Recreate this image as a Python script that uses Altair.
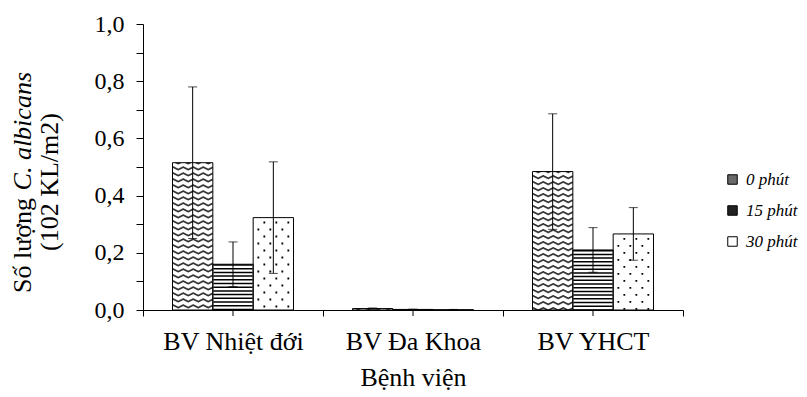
import altair as alt
import pandas as pd

# ---- data ----
categories = ["BV Nhiệt đới", "BV Đa Khoa", "BV YHCT"]
series = ["0 phút", "15 phút", "30 phút"]
mean_0 = [0.515, 0.005, 0.484]
sd_0 = [0.265, 0.002, 0.202]
mean_15 = [0.160, 0.002, 0.210]
sd_15 = [0.078, 0.001, 0.078]
mean_30 = [0.323, 0.001, 0.266]
sd_30 = [0.195, 0.001, 0.092]
y_tick_values = [0.0, 0.1, 0.2, 0.3, 0.4, 0.5, 0.6, 0.7, 0.8, 0.9, 1.0]
x_title = "Bệnh viện"
y_title_a = "Số lượng"
y_title_b = "C. albicans"
y_title_c = "(102 KL/m2)"

rows = []
for s, ms, sds in zip(series, [mean_0, mean_15, mean_30], [sd_0, sd_15, sd_30]):
    for c, m, sd in zip(categories, ms, sds):
        rows.append({"cat": c, "ser": s, "val": m, "lo": max(m - sd, 0), "hi": m + sd})
df = pd.DataFrame(rows)

# ---- layout / style ----
W, H = 540, 286
STEP = W / len(categories)
BW = 40.33
PAD_OUTER = (STEP / BW - len(series)) / 2
FONT = "Liberation Serif"

x_enc = alt.X(
    "cat:N",
    sort=categories,
    scale=alt.Scale(domain=categories, paddingInner=0, paddingOuter=0),
    axis=alt.Axis(
        title=x_title, labelAngle=0, labelFont=FONT, labelFontSize=26, labelColor="black",
        tickSize=6, labelPadding=12, titleFont=FONT, titleFontSize=26, titleFontWeight="normal",
        titleColor="black", titlePadding=10, tickBand="extent",
    ),
)
y_axis = alt.Axis(
    title=None, values=y_tick_values, tickSize=7, labelFont=FONT, labelFontSize=24,
    labelColor="black", labelPadding=12,
    labelExpr="round(datum.value*10) % 2 == 0 ? replace(format(datum.value, '.1f'), '.', ',') : ''",
    grid=False,
)
y_scale = alt.Scale(domain=[0, 1], nice=False, zero=True)


def Y(field):
    return alt.Y(field, scale=y_scale, axis=y_axis)


x_off = alt.XOffset(
    "ser:N", sort=series,
    scale=alt.Scale(domain=series, paddingInner=0, paddingOuter=PAD_OUTER),
)

base = alt.Chart(df)
layers = []

# white bar bodies
layers.append(base.mark_bar(fill="white", strokeWidth=0).encode(x=x_enc, xOffset=x_off, y=Y("val:Q")))

# pattern for "0 phút": zigzag rows built from thin dashed columns
for j in range(40):
    k = -19.5 + j
    off = 0.5 * abs((j % 10) - 5)
    layers.append(
        base.transform_filter(alt.datum.ser == series[0])
        .mark_rule(xOffset=-BW + k, strokeWidth=1.05, strokeDash=[1.7, 4.3],
                   strokeDashOffset=off, color="black", strokeCap="butt")
        .encode(x=x_enc, y=Y("val:Q"), y2=alt.datum(0))
    )

# pattern for "15 phút": horizontal stripes
layers.append(
    base.transform_filter(alt.datum.ser == series[1])
    .mark_rule(xOffset=0, strokeWidth=BW - 1, strokeDash=[1.5, 2.2], color="black", strokeCap="butt")
    .encode(x=x_enc, y=Y("val:Q"), y2=alt.datum(0))
)

# pattern for "30 phút": staggered dots
for j, k in enumerate([-15, -9, -3, 3, 9, 15]):
    layers.append(
        base.transform_filter(alt.datum.ser == series[2])
        .mark_rule(xOffset=BW + k, strokeWidth=1.8, strokeDash=[1.8, 12.2],
                   strokeDashOffset=3 + 7 * (j % 2), color="black", strokeCap="butt")
        .encode(x=x_enc, y=Y("val:Q"), y2=alt.datum(0))
    )

# bar outlines
layers.append(
    base.mark_bar(fillOpacity=0, stroke="black", strokeWidth=1)
    .encode(x=x_enc, xOffset=x_off, y=Y("val:Q"))
)

# error bars
layers.append(
    base.mark_rule(color="black", strokeWidth=1)
    .encode(x=x_enc, xOffset=x_off, y=Y("lo:Q"), y2="hi:Q")
)
layers.append(
    base.mark_tick(color="black", size=9, thickness=1)
    .encode(x=x_enc, xOffset=x_off, y=Y("hi:Q"))
)
layers.append(
    base.mark_tick(color="black", size=9, thickness=1)
    .encode(x=x_enc, xOffset=x_off, y=Y("lo:Q"))
)

# ticks at category centres on the x axis
cat_df = pd.DataFrame({"cat": categories})
layers.append(
    alt.Chart(cat_df).mark_rule(color="black", strokeWidth=1)
    .encode(x=x_enc, y=alt.value(H), y2=alt.value(H + 6))
)

# y-axis title (mixed normal / italic)
layers.append(
    alt.Chart(pd.DataFrame({"t": [y_title_a]}))
    .mark_text(angle=270, align="left", baseline="middle", font=FONT, fontSize=26, color="black")
    .encode(x=alt.value(-120), y=alt.value(269), text="t:N")
)
layers.append(
    alt.Chart(pd.DataFrame({"t": [y_title_b]}))
    .mark_text(angle=270, align="right", baseline="middle", font=FONT, fontSize=26,
               fontStyle="italic", color="black")
    .encode(x=alt.value(-120), y=alt.value(48), text="t:N")
)
layers.append(
    alt.Chart(pd.DataFrame({"t": [y_title_c]}))
    .mark_text(angle=270, align="center", baseline="middle", font=FONT, fontSize=26, color="black")
    .encode(x=alt.value(-93), y=alt.value(158), text="t:N")
)

# legend driver (no visible marks)
layers.append(
    base.transform_filter("false").mark_bar()
    .encode(
        x=x_enc, y=Y("val:Q"),
        fill=alt.Fill(
            "ser:N", sort=series,
            scale=alt.Scale(domain=series, range=["#6a6a6a", "#222222", "white"]),
            legend=alt.Legend(
                title=None, orient="none", legendX=581, legendY=147,
                symbolType="square", symbolSize=90, symbolStrokeColor="black",
                symbolStrokeWidth=1, symbolOpacity=1,
                labelFont=FONT, labelFontSize=17, labelFontStyle="italic",
                labelColor="black", rowPadding=13, labelOffset=5, labelLimit=200,
            ),
        ),
    )
)

chart = (
    alt.layer(*layers)
    .properties(
        width=W, height=H,
        autosize=alt.AutoSizeParams(type="none"),
        padding={"left": 135, "top": 16, "right": 116, "bottom": 84},
        background="white",
    )
    .configure_view(stroke=None)
    .configure_axis(
        domainColor="black", tickColor="black", labelColor="black", titleColor="black",
        labelFont=FONT, titleFont=FONT, titleFontWeight="normal", domainWidth=1, tickWidth=1,
    )
)

chart.save("out.html", embed_options={"renderer": "svg", "actions": False})
